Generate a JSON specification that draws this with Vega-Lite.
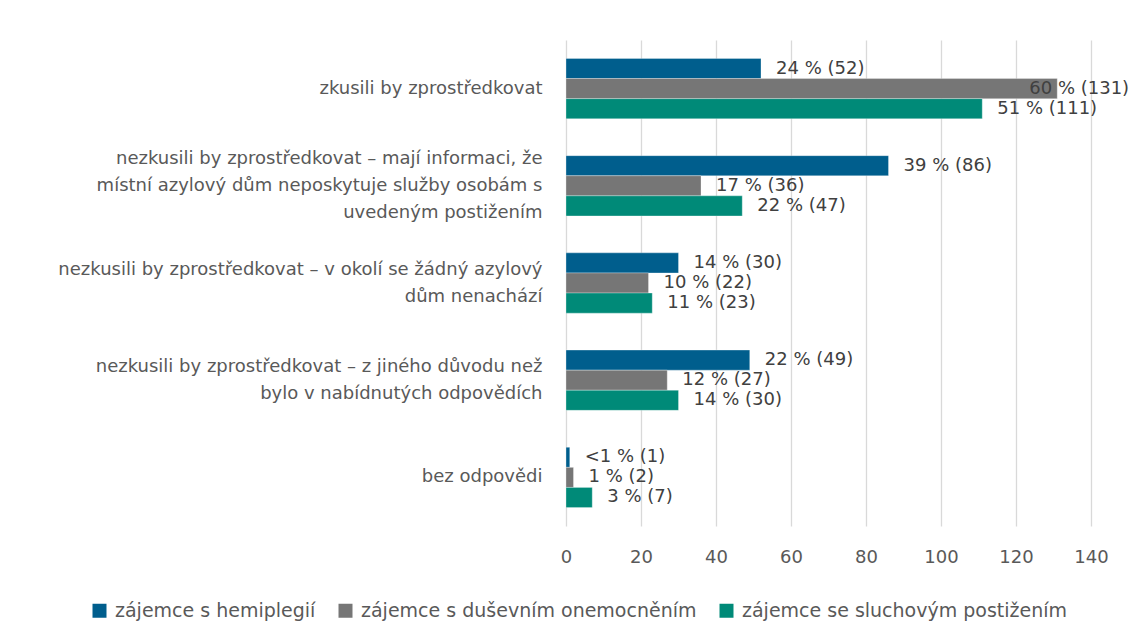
{
  "$schema": "https://vega.github.io/schema/vega-lite/v6.json",
  "autosize": "none",
  "width": 525,
  "height": 486,
  "padding": {"left": 566, "top": 40, "right": 40, "bottom": 115},
  "background": "white",
  "config": {
    "font": "DejaVu Sans",
    "view": {"stroke": null}
  },
  "data": {
    "values": [
      {"cat": "zkusili by zprostředkovat", "series": "zájemce s hemiplegií", "value": 52, "label": "24 % (52)"},
      {"cat": "zkusili by zprostředkovat", "series": "zájemce s duševním onemocněním", "value": 131, "label": "60 % (131)"},
      {"cat": "zkusili by zprostředkovat", "series": "zájemce se sluchovým postižením", "value": 111, "label": "51 % (111)"},
      {"cat": "nezkusili by zprostředkovat – mají informaci, že|místní azylový dům neposkytuje služby osobám s|uvedeným postižením", "series": "zájemce s hemiplegií", "value": 86, "label": "39 % (86)"},
      {"cat": "nezkusili by zprostředkovat – mají informaci, že|místní azylový dům neposkytuje služby osobám s|uvedeným postižením", "series": "zájemce s duševním onemocněním", "value": 36, "label": "17 % (36)"},
      {"cat": "nezkusili by zprostředkovat – mají informaci, že|místní azylový dům neposkytuje služby osobám s|uvedeným postižením", "series": "zájemce se sluchovým postižením", "value": 47, "label": "22 % (47)"},
      {"cat": "nezkusili by zprostředkovat – v okolí se žádný azylový|dům nenachází", "series": "zájemce s hemiplegií", "value": 30, "label": "14 % (30)"},
      {"cat": "nezkusili by zprostředkovat – v okolí se žádný azylový|dům nenachází", "series": "zájemce s duševním onemocněním", "value": 22, "label": "10 % (22)"},
      {"cat": "nezkusili by zprostředkovat – v okolí se žádný azylový|dům nenachází", "series": "zájemce se sluchovým postižením", "value": 23, "label": "11 % (23)"},
      {"cat": "nezkusili by zprostředkovat – z jiného důvodu než|bylo v nabídnutých odpovědích", "series": "zájemce s hemiplegií", "value": 49, "label": "22 % (49)"},
      {"cat": "nezkusili by zprostředkovat – z jiného důvodu než|bylo v nabídnutých odpovědích", "series": "zájemce s duševním onemocněním", "value": 27, "label": "12 % (27)"},
      {"cat": "nezkusili by zprostředkovat – z jiného důvodu než|bylo v nabídnutých odpovědích", "series": "zájemce se sluchovým postižením", "value": 30, "label": "14 % (30)"},
      {"cat": "bez odpovědi", "series": "zájemce s hemiplegií", "value": 1, "label": "<1 % (1)"},
      {"cat": "bez odpovědi", "series": "zájemce s duševním onemocněním", "value": 2, "label": "1 % (2)"},
      {"cat": "bez odpovědi", "series": "zájemce se sluchovým postižením", "value": 7, "label": "3 % (7)"}
    ]
  },
  "encoding": {
    "y": {
      "field": "cat",
      "type": "nominal",
      "sort": null,
      "scale": {"paddingInner": 0.38, "paddingOuter": 0.19},
      "axis": {
        "title": null,
        "domain": false,
        "ticks": false,
        "labelPadding": 24,
        "labelFontSize": 18,
        "labelColor": "#595959",
        "labelLimit": 600,
        "labelLineHeight": 27,
        "labelExpr": "split(datum.label, '|')",
        "labelOffset": {
          "condition": [
            {"test": "length(split(datum.value, '|')) == 3", "value": -27},
            {"test": "length(split(datum.value, '|')) == 2", "value": -13.5}
          ],
          "value": 0
        }
      }
    },
    "yOffset": {
      "field": "series",
      "type": "nominal",
      "sort": ["zájemce s hemiplegií", "zájemce s duševním onemocněním", "zájemce se sluchovým postižením"],
      "scale": {"paddingInner": 0, "paddingOuter": 0}
    },
    "x": {
      "field": "value",
      "type": "quantitative",
      "scale": {"domain": [0, 140], "nice": false},
      "axis": {
        "title": null,
        "values": [0, 20, 40, 60, 80, 100, 120, 140],
        "domain": false,
        "ticks": false,
        "grid": true,
        "gridColor": "#d9d9d9",
        "gridWidth": 1.3,
        "labelFlush": false,
        "labelPadding": 22,
        "labelFontSize": 18,
        "labelColor": "#595959"
      }
    }
  },
  "layer": [
    {
      "mark": {"type": "bar", "stroke": "white", "strokeWidth": 0.5, "strokeOpacity": 0.6},
      "encoding": {
        "color": {
          "field": "series",
          "type": "nominal",
          "sort": ["zájemce s hemiplegií", "zájemce s duševním onemocněním", "zájemce se sluchovým postižením"],
          "scale": {"range": ["#005e8d", "#767676", "#008a78"]},
          "legend": {
            "title": null,
            "orient": "none",
            "legendX": -476,
            "legendY": 561,
            "direction": "horizontal",
            "symbolType": "square",
            "symbolSize": 196,
            "symbolStrokeWidth": 0,
            "labelFontSize": 19,
            "labelColor": "#595959",
            "labelLimit": 400,
            "columnPadding": 20,
            "labelOffset": 6
          }
        }
      }
    },
    {
      "mark": {
        "type": "text",
        "align": "left",
        "baseline": "middle",
        "dx": {"expr": "datum.value > 125 ? -28 : 15"},
        "fontSize": 18,
        "color": "#404040"
      },
      "encoding": {
        "text": {"field": "label"}
      }
    }
  ]
}
